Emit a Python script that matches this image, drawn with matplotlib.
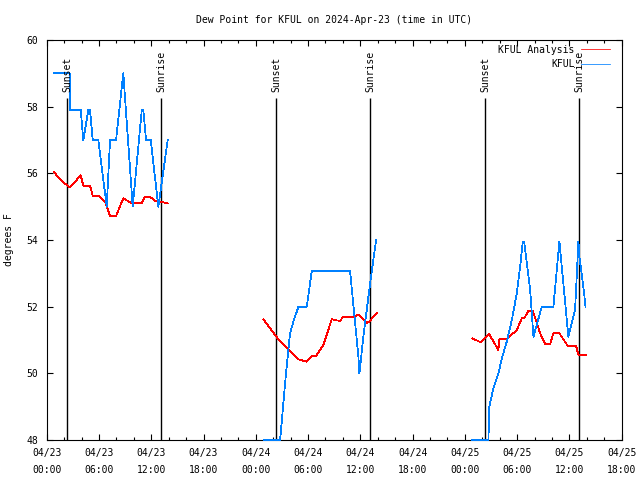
import matplotlib
matplotlib.use("Agg")
import matplotlib.pyplot as plt
import matplotlib.dates as mdates
import numpy as np
import pandas as pd

# hours after 2024-04-23 00:00 UTC
start = pd.Timestamp("2024-04-23 00:00")

obs_h1 = [0.84, 2.65, 2.7, 3.9, 4.2, 4.78, 4.97, 5.28, 5.92, 6.89, 7.27, 7.96, 8.79, 9.87, 10.91, 11.09, 11.4, 11.94, 12.81, 13.89]
obs_v1 = [59.0, 59.0, 57.9, 57.9, 57.0, 57.9, 57.9, 57.0, 57.0, 55.0, 57.0, 57.0, 59.0, 55.0, 57.9, 57.9, 57.0, 57.0, 55.0, 57.0]
obs_h2 = [24.87, 26.79, 26.98, 27.36, 27.62, 27.93, 28.31, 28.89, 29.85, 30.42, 34.82, 35.78, 35.89, 36.35, 37.12, 37.81]
obs_v2 = [48.0, 48.0, 48.55, 49.7, 50.4, 51.2, 51.55, 52.0, 52.0, 53.06, 53.06, 50.5, 50.0, 51.1, 52.7, 54.0]
obs_h3 = [48.86, 50.7, 50.81, 51.27, 51.85, 52.24, 52.81, 53.39, 53.96, 54.34, 54.65, 54.8, 55.49, 55.87, 56.83, 58.16, 58.85, 59.88, 60.65, 61.03, 61.15, 61.69, 61.84]
obs_v3 = [48.0, 48.0, 49.0, 49.55, 50.0, 50.45, 50.95, 51.6, 52.4, 53.2, 53.95, 53.95, 52.5, 51.1, 52.0, 52.0, 53.95, 51.1, 51.9, 53.95, 53.5, 52.4, 52.0]

ana_h1 = [0.84, 1.8, 2.68, 3.9, 4.2, 4.97, 5.28, 5.92, 6.7, 7.27, 7.96, 8.79, 9.75, 10.91, 11.2, 11.94, 12.44, 13.1, 13.89]
ana_v1 = [56.03, 55.75, 55.58, 55.94, 55.63, 55.63, 55.33, 55.33, 55.15, 54.72, 54.72, 55.25, 55.1, 55.1, 55.28, 55.28, 55.18, 55.15, 55.1]
ana_h2 = [24.87, 26.41, 27.74, 28.31, 28.89, 29.85, 30.42, 30.92, 31.76, 32.72, 33.67, 33.98, 35.2, 35.78, 36.74, 37.12, 37.89]
ana_v2 = [51.62, 51.08, 50.72, 50.58, 50.42, 50.35, 50.52, 50.52, 50.85, 51.62, 51.57, 51.68, 51.68, 51.77, 51.5, 51.58, 51.82]
ana_h3 = [48.86, 49.83, 50.78, 51.85, 51.97, 52.81, 53.96, 54.53, 54.8, 55.29, 55.8, 56.64, 57.21, 57.79, 58.16, 58.85, 59.82, 60.77, 61.03, 61.88]
ana_v3 = [51.05, 50.93, 51.18, 50.7, 51.03, 51.03, 51.3, 51.65, 51.65, 51.87, 51.87, 51.2, 50.88, 50.88, 51.2, 51.2, 50.82, 50.82, 50.55, 50.55]

sun_h = [2.37, 13.16, 26.36, 37.15, 50.36, 61.15]
sun_lbl = ["Sunset", "Sunrise", "Sunset", "Sunrise", "Sunset", "Sunrise"]


def join(hs, vs):
    # segments with a gap between them
    h_all, v_all = [], []
    for h, v in zip(hs, vs):
        h_all += list(h) + [h[-1] + 0.01]
        v_all += list(v) + [np.nan]
    t = start + pd.to_timedelta(h_all, unit="h")
    return t, np.array(v_all)


ana_t, ana_v = join([ana_h1, ana_h2, ana_h3], [ana_v1, ana_v2, ana_v3])
obs_t, obs_v = join([obs_h1, obs_h2, obs_h3], [obs_v1, obs_v2, obs_v3])

plt.rcParams["font.family"] = "DejaVu Sans Mono"
plt.rcParams["font.size"] = 7

fig = plt.figure(figsize=(6.4, 4.8), dpi=100)
ax = fig.add_axes([0.073, 0.0833, 0.8984, 0.8334])

ax.plot(ana_t, ana_v, color="#ff0000", lw=0.55, label="KFUL Analysis", zorder=3, antialiased=False, clip_on=False)
ax.plot(obs_t, obs_v, color="#0080ff", lw=0.55, label="KFUL", zorder=3, antialiased=False, clip_on=False)

for h, lbl in zip(sun_h, sun_lbl):
    t = start + pd.Timedelta(hours=h)
    ax.vlines(t, 48, 58.26, color="black", lw=1.0, zorder=2)
    ax.text(t, 58.45, lbl, rotation=90, ha="center", va="bottom", fontsize=7)

ax.set_xlim(start, start + pd.Timedelta(hours=66))
ax.set_ylim(48, 60)
ax.set_yticks(np.arange(48, 61, 2))
ax.xaxis.set_major_locator(mdates.HourLocator(byhour=[0, 6, 12, 18]))
ax.xaxis.set_minor_locator(mdates.HourLocator(byhour=range(0, 24, 2)))
ax.xaxis.set_major_formatter(mdates.DateFormatter("%m/%d\n%H:%M"))
ax.tick_params(which="both", direction="in", top=True, right=True, labelsize=7, width=0.8)
ax.tick_params(which="major", length=4, pad=6)
ax.tick_params(which="minor", length=2)
for s in ax.spines.values():
    s.set_linewidth(0.8)

ax.set_title("Dew Point for KFUL on 2024-Apr-23 (time in UTC)", fontsize=7, pad=12)
ax.set_ylabel("degrees F", fontsize=7, labelpad=9)

ax.legend(loc="upper right", bbox_to_anchor=(0.979, 0.988), frameon=False, markerfirst=False,
          handlelength=2.9, handletextpad=0.7, labelspacing=0.45, borderpad=0, borderaxespad=0, fontsize=7)

fig.canvas.draw()
for lbl in ax.get_xticklabels():
    lbl.set_linespacing(1.8)

fig.savefig("out.png", dpi=100)
